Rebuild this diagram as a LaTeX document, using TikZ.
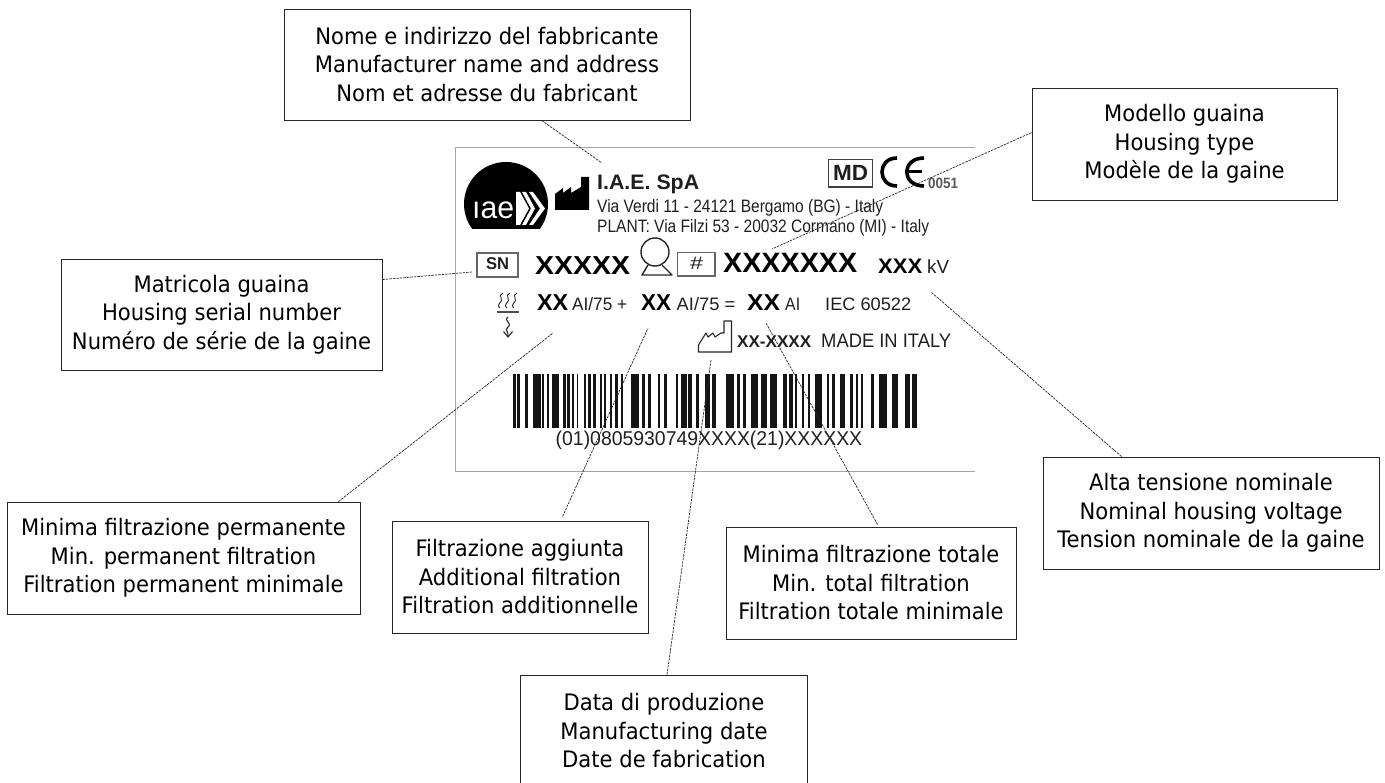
\documentclass[tikz,border=0pt]{standalone}
\usepackage{fontspec}
\setmainfont[FakeStretch=0.93]{DejaVu Sans}
\newfontfamily\lfont{Liberation Sans}
\usetikzlibrary{calc}
\newcommand\fittxt[3]{\resizebox{#1pt}{\height}{\lfont\fontsize{#2}{#2}\selectfont #3}}
\tikzset{
  callout/.style={draw=black!85,line width=0.9pt,fill=white,inner sep=0pt,align=center,
    font=\fontsize{22.7}{28.5}\selectfont},
  leader/.style={draw=black!85,line width=0.7pt,dash pattern=on 2.5pt off 1pt},
  lab/.style={inner sep=0pt,anchor=base west,text=black!88},
  grayframe/.style={draw=black!60,line width=1.5pt},
  icon/.style={draw=black!85,line width=1.1pt,line join=round}
}
\begin{document}
\begin{tikzpicture}[x=1pt,y=-1pt]
\useasboundingbox (0,0) rectangle (1385,783);
% label frame
\draw[draw=black!35,line width=1pt] (975,147.5) -- (455,147.5) -- (455,472) -- (975,472);
% logo
\begin{scope}
\clip (455,150) rectangle (560,229);
\fill[black] (506,204) circle[radius=42pt];
\end{scope}
\node[lab,text=white] (iae) at (472,219) {\fittxt{42}{31}{ıae}};
\fill[white] (516,192) -- (520,192) -- (529,208.5) -- (520,225) -- (516,225) -- cycle;
\fill[white] (522,192) -- (526,192) -- (535,208.5) -- (526,225) -- (522,225) -- (531,208.5) -- cycle;
\fill[white] (529,192) -- (533,192) -- (545,208.5) -- (533,225) -- (529,225) -- (540,208.5) -- cycle;
% factory
\fill[black] (555,210) -- (555,194) -- (563,188) -- (563,193) -- (571,187) -- (571,193) -- (581,187) -- (581,177) -- (589,177) -- (589,210) -- cycle;
% header text
\node[lab] (iaename) at (597,190) {\fittxt{102}{21}{\bfseries I.A.E. SpA}};
\node[lab] (via) at (597,213) {\fittxt{286}{18}{Via Verdi 11 - 24121 Bergamo (BG) - Italy}};
\node[lab] (plantl) at (597,233) {\fittxt{332}{18}{PLANT: Via Filzi 53 - 20032 Cormano (MI) - Italy}};
% MD CE
\draw[draw=black!75,line width=1.6pt] (828.5,159.5) rectangle (872.5,187);
\node[lab] (md) at (833,181) {\fittxt{35}{22}{\bfseries MD}};
\draw[black,line width=3.6pt] (897,158) .. controls (877,158) and (877,186) .. (897,186);
\draw[black,line width=3.6pt] (924,158) .. controls (901,158) and (901,186) .. (924,186);
\draw[black,line width=3pt] (907,172) -- (922,172);
\node[lab,text=black!65] (nb) at (928,189) {\fittxt{30}{15}{\bfseries 0051}};
% row SN
\draw[grayframe] (477,253) rectangle (518,277);
\node[lab] (sn) at (486,270) {\fittxt{23}{17}{\bfseries SN}};
\node[lab,text=black] (xa) at (535,275) {\fittxt{95}{26}{\bfseries XXXXX}};
\draw[black!85,line width=1.4pt] (655,252) circle[radius=14pt];
\draw[black!85,line width=1.4pt,line join=round] (648,265) -- (642,275) -- (672,275) -- (662,265);
\draw[grayframe] (677.5,252.5) rectangle (715,276);
\node[lab] (hash) at (690,270) {\fittxt{13}{18}{\#}};
\node[lab,text=black] (xb) at (723,273) {\fittxt{134}{28}{\bfseries XXXXXXX}};
\node[lab,text=black] (xc) at (878,274) {\fittxt{44}{21}{\bfseries XXX}};
\node[lab] (kv) at (927,274) {\fittxt{22}{19}{kV}};
% row filtration
\foreach \q in {500,507,514}{
  \draw[icon,line width=0.9pt] (\q,308) .. controls (\q-5,304) and (\q+4,302) .. (\q+1,298) .. controls (\q-1,296) and (\q+1,294) .. (\q+3,293);
}
\draw[black!70,line width=1.2pt] (497,312) -- (519,312);
\draw[icon] (508,317) .. controls (503,321) and (513,323) .. (508,327) .. controls (504,330) and (509,332) .. (508,336);
\draw[icon] (503.5,331.5) -- (508,337) -- (512.5,331.5);
\node[lab,text=black] (xx1) at (537,311) {\fittxt{31}{23}{\bfseries XX}};
\node[lab] (ai1) at (572,311) {\fittxt{55}{18}{AI/75 +}};
\node[lab,text=black] (xx2) at (641,311) {\fittxt{30}{23}{\bfseries XX}};
\node[lab] (ai2) at (676.5,311) {\fittxt{58.5}{18}{AI/75 =}};
\node[lab,text=black] (xx3) at (747,311) {\fittxt{33}{23}{\bfseries XX}};
\node[lab] (ai3) at (785,311) {\fittxt{15}{18}{AI}};
\node[lab] (iec) at (825,311) {\fittxt{86}{18}{IEC 60522}};
% factory outline
\draw[icon] (698.5,352) -- (698.5,345) -- (706,333) -- (708,337) -- (713,333) -- (715,337) -- (721,333) -- (724,333) -- (724,321) -- (731.5,321) -- (731.5,352) -- cycle;
\node[lab] (date) at (737,348) {\fittxt{74}{17}{\bfseries XX-XXXX}};
\node[lab] (made) at (821,348) {\fittxt{130}{19.5}{MADE IN ITALY}};
% barcode
\foreach \a/\b in {10/18,22/30,45/55,70/92,97/103,110/118,125/148,158/168,172/180,185/192,200/205,222/228,235/243,250/258,270/275,283/288,300/305,315/325,333/340,362/388,395/405,415/422,445/450,462/470,498/505,512/530,535/545,558/568,585/600,607/618,648/672,680/690,700/708,722/745,752/772,780/800,820/832,838/848,855/862,875/882,893/900,915/935,950/958,965/975,990/1005,1020/1030,1037/1045,1052/1058,1082/1092,1108/1130,1145/1165,1185/1200,1205/1220}{
  \fill[black!92] ({510+\a/3},374) rectangle ({510+\b/3},428);
}
\node[lab] (code) at (555.5,446) {\fittxt{306.5}{20}{(01)0805930749XXXX(21)XXXXXX}};
% callouts
\node[callout,minimum width=406pt,minimum height=111pt] (bmaker) at (487,64.5) {Nome e indirizzo del fabbricante\\Manufacturer name and address\\Nom et adresse du fabricant};
\node[callout,minimum width=305pt,minimum height=112pt] (btype) at (1184.5,144) {Modello guaina\\Housing type\\Modèle de la gaine};
\node[callout,minimum width=321pt,minimum height=111pt] (bserial) at (221.5,314.5) {Matricola guaina\\Housing serial number\\Numéro de série de la gaine};
\node[callout,minimum width=336pt,minimum height=112pt] (bvolt) at (1211,513) {Alta tensione nominale\\Nominal housing voltage\\Tension nominale de la gaine};
\node[callout,minimum width=353pt,minimum height=112pt] (bperm) at (183.5,558) {Minima filtrazione permanente\\Min. permanent filtration\\Filtration permanent minimale\hspace{18pt}};
\node[callout,minimum width=256pt,minimum height=112pt] (badd) at (520,577) {Filtrazione aggiunta\\Additional filtration\\Filtration additionnelle};
\node[callout,minimum width=290pt,minimum height=112pt] (btotal) at (871,583) {Minima filtrazione totale\\Min. total filtration\\Filtration totale minimale};
\node[callout,minimum width=287pt,minimum height=112pt] (bdate) at (664,731) {Data di produzione\\Manufacturing date\\Date de fabrication};
% leaders
\coordinate (e1) at (602,163);
\coordinate (e2) at (472,272);
\coordinate (e3) at (772,249);
\coordinate (e4) at (931,292);
\coordinate (e5) at (553,333);
\coordinate (e6) at (648,328);
\coordinate (e7) at (711,360);
\coordinate (e8) at (766,323);
\draw[leader] ($(bmaker.south west)+(258,0)$) -- (e1);
\draw[leader] ($(bserial.north east)+(0,21)$) -- (e2);
\draw[leader] ($(btype.north west)+(0,45)$) -- (e3);
\draw[leader] ($(bvolt.north west)+(79,0)$) -- (e4);
\draw[leader] ($(bperm.north west)+(332,0)$) -- (e5);
\draw[leader] ($(badd.north west)+(171,-4)$) -- (e6);
\draw[leader] ($(bdate.north west)+(147,0)$) -- (e7);
\draw[leader] ($(btotal.north west)+(152,-2)$) -- (e8);
\end{tikzpicture}
\end{document}
